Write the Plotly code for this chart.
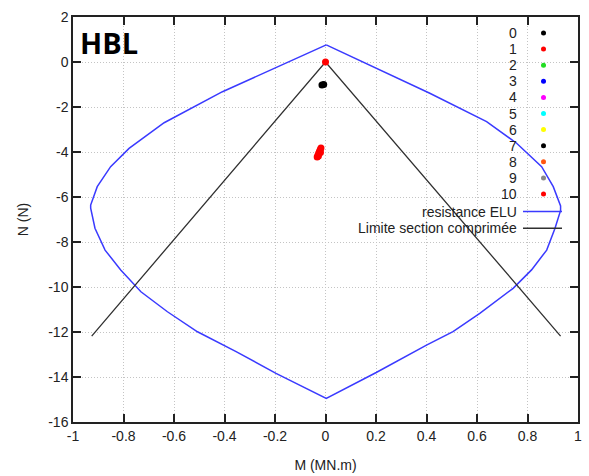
import plotly.graph_objects as go

# ---------------- data ----------------
env_M = [0.003, -0.408, -0.639, -0.778, -0.851, -0.904, -0.930, -0.930, -0.913, -0.873,
         -0.811, -0.731, -0.626, -0.507, -0.354, -0.196, 0.003, 0.201, 0.400, 0.505,
         0.611, 0.743, 0.816, 0.876, 0.909, 0.931, 0.931, 0.902, 0.856, 0.757, 0.638,
         0.413, 0.003]
env_N = [0.76, -1.32, -2.70, -3.84, -4.65, -5.54, -6.36, -6.50, -7.39, -8.36,
         -9.24, -10.21, -11.10, -11.99, -12.87, -13.84, -14.95, -13.80, -12.58, -11.98,
         -11.17, -10.06, -9.24, -8.36, -7.39, -6.60, -6.40, -5.54, -4.65, -3.61, -2.65,
         -1.39, 0.76]

lim_M = [-0.926, 0.0, 0.931]
lim_N = [-12.18, 0.0, -12.18]

series_names = ["0", "1", "2", "3", "4", "5", "6", "7", "8", "9", "10"]
series_colors = ["#000000", "#ff0000", "#22dd22", "#0000ff", "#ff00ff", "#00ffff",
                 "#ffff00", "#000000", "#ff5511", "#888888", "#ff0000"]
series_M = [[-0.014, -0.007], [0.0], [], [], [], [], [], [], [], [],
            [-0.018, -0.021, -0.024, -0.027, -0.030, -0.033, -0.020, -0.028]]
series_N = [[-1.02, -1.00], [0.0], [], [], [], [], [], [], [], [],
            [-3.82, -3.90, -3.98, -4.06, -4.14, -4.22, -4.02, -4.18]]

x_ticks = [-1, -0.8, -0.6, -0.4, -0.2, 0, 0.2, 0.4, 0.6, 0.8, 1]
y_ticks = [2, 0, -2, -4, -6, -8, -10, -12, -14, -16]

env_name = "resistance ELU"
lim_name = "Limite section comprimée"
env_color = "#3a3aff"
lim_color = "#303030"

FONT = "Liberation Sans, Arial, sans-serif"

fig = go.Figure()

fig.add_trace(go.Scatter(x=env_M, y=env_N, mode="lines", name=env_name,
                         line=dict(color=env_color, width=1.5), showlegend=False))
fig.add_trace(go.Scatter(x=lim_M, y=lim_N, mode="lines", name=lim_name,
                         line=dict(color=lim_color, width=1.3), showlegend=False))
for nm, col, mx, ny in zip(series_names, series_colors, series_M, series_N):
    fig.add_trace(go.Scatter(x=mx, y=ny, mode="markers", name=nm,
                             marker=dict(color=col, size=7, line=dict(width=0)),
                             showlegend=False))

# ---------------- custom gnuplot-like legend (text left of symbol) ----------------
L, T, W, H = 73, 17, 505, 405


def px2paper_x(px):
    return (px - L) / W


def px2paper_y(py):
    return (T + H - py) / H


annotations = []
shapes = []
text_right = px2paper_x(519)
for i, (nm, col) in enumerate(zip(series_names, series_colors)):
    py = 33.0 + 16.1 * i
    yy = px2paper_y(py)
    annotations.append(dict(x=text_right, y=yy, xref="paper", yref="paper",
                            text=nm, showarrow=False, xanchor="right", yanchor="middle",
                            font=dict(family=FONT, size=14, color="#222222")))
    shapes.append(dict(type="circle", xref="paper", yref="paper",
                       xsizemode="pixel", ysizemode="pixel",
                       xanchor=px2paper_x(543.5), yanchor=yy,
                       x0=-2.5, x1=2.5, y0=-2.5, y1=2.5,
                       fillcolor=col, line=dict(width=0)))
for j, (nm, col) in enumerate([(env_name, env_color), (lim_name, lim_color)]):
    py = 211.5 + 16.8 * j
    yy = px2paper_y(py)
    annotations.append(dict(x=text_right, y=yy, xref="paper", yref="paper",
                            text=nm, showarrow=False, xanchor="right", yanchor="middle",
                            font=dict(family=FONT, size=14, color="#222222")))
    shapes.append(dict(type="line", xref="paper", yref="paper",
                       x0=px2paper_x(523), x1=px2paper_x(562), y0=yy, y1=yy,
                       line=dict(color=col, width=1.5)))

annotations.append(dict(x=px2paper_x(78), y=px2paper_y(42), xref="paper", yref="paper",
                        text="<b>HBL</b>", showarrow=False, xanchor="left", yanchor="middle",
                        font=dict(family="Open Sans, Lato, sans-serif", size=29, color="#000000")))

fig.update_layout(
    width=589, height=476,
    margin=dict(l=L, r=589 - L - W, t=T, b=476 - T - H, autoexpand=False),
    plot_bgcolor="white", paper_bgcolor="white",
    font=dict(family=FONT, size=14, color="#222222"),
    annotations=annotations, shapes=shapes,
    showlegend=False,
)
axis_common = dict(
    showgrid=True, gridcolor="#c4c4c4", griddash="1px,2px", gridwidth=1,
    showline=True, linecolor="#222222", linewidth=1.5, mirror="allticks",
    ticks="inside", ticklen=8, tickwidth=1.5, tickcolor="#222222",
    zeroline=False, automargin=False,
    tickfont=dict(family=FONT, size=14, color="#222222"),
)
fig.update_xaxes(range=[-1, 1], tickvals=x_ticks, ticktext=[str(v) for v in x_ticks],
                 title=dict(text="M (MN.m)", font=dict(family=FONT, size=14), standoff=18),
                 **axis_common)
fig.update_yaxes(range=[-16, 2], tickvals=y_ticks, ticktext=[str(v) for v in y_ticks],
                 title=dict(text="N (N)", font=dict(family=FONT, size=14), standoff=16),
                 **axis_common)

fig.write_html("out.html")
